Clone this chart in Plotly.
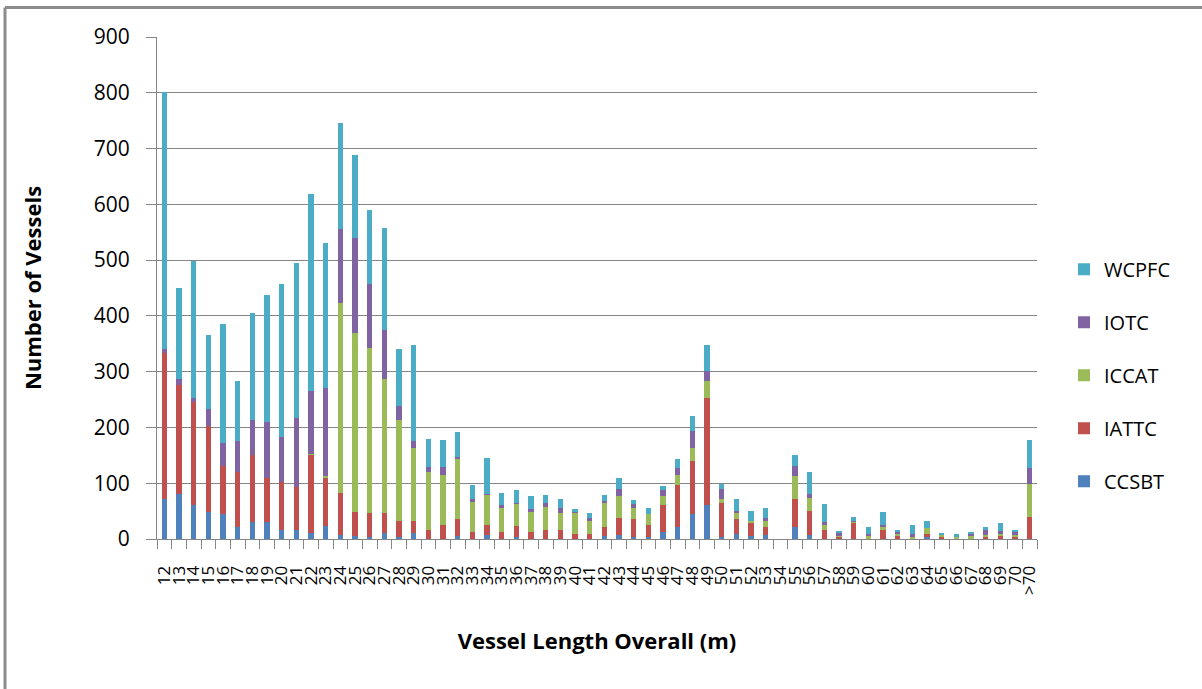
import plotly.graph_objects as go

categories = [str(v) for v in range(12, 71)] + [">70"]

ccsbt = [72, 81, 61, 49, 45, 21, 31, 31, 17, 17, 10, 24, 7, 6, 4, 10, 4, 10, 0, 0,
         6, 0, 7, 0, 4, 0, 0, 0, 0, 0, 6, 7, 4, 4, 13, 22, 45, 61, 4, 9,
         6, 7, 0, 22, 7, 0, 0, 0, 0, 0, 0, 0, 4, 0, 0, 0, 0, 0, 0, 0]
iattc = [261, 195, 184, 154, 86, 99, 119, 79, 86, 76, 141, 87, 75, 43, 42, 36, 29, 23, 16, 25,
         30, 13, 18, 13, 19, 13, 17, 17, 9, 9, 15, 31, 32, 21, 48, 75, 95, 192, 61, 27,
         23, 15, 0, 50, 43, 16, 4, 29, 0, 16, 7, 0, 5, 4, 0, 0, 5, 7, 4, 40]
iccat = [0, 0, 0, 0, 0, 0, 0, 0, 0, 0, 2, 2, 342, 320, 297, 241, 181, 131, 104, 90,
         107, 54, 54, 43, 40, 36, 40, 30, 38, 23, 43, 39, 20, 20, 16, 18, 23, 30, 7, 11,
         3, 11, 0, 41, 23, 9, 2, 2, 5, 5, 2, 4, 11, 4, 4, 7, 2, 2, 4, 59]
iotc = [8, 11, 7, 30, 41, 55, 63, 100, 79, 124, 113, 157, 131, 170, 114, 88, 25, 12, 9, 14,
        4, 5, 2, 5, 2, 5, 7, 9, 2, 5, 5, 13, 7, 0, 11, 12, 30, 18, 18, 4,
        0, 5, 0, 18, 7, 5, 4, 2, 4, 4, 4, 5, 0, 0, 0, 2, 9, 5, 5, 29]
wcpfc = [460, 163, 247, 133, 213, 109, 193, 227, 275, 277, 353, 260, 190, 149, 133, 183, 102, 172, 50, 48,
         44, 25, 64, 21, 23, 23, 14, 16, 5, 9, 9, 20, 7, 11, 7, 16, 27, 47, 9, 20,
         18, 18, 0, 20, 40, 32, 5, 7, 13, 23, 4, 16, 12, 2, 5, 4, 5, 14, 2, 49]

series = [
    ("CCSBT", ccsbt, "#4F81BD"),
    ("IATTC", iattc, "#C0504D"),
    ("ICCAT", iccat, "#9BBB59"),
    ("IOTC", iotc, "#8064A2"),
    ("WCPFC", wcpfc, "#4BACC6"),
]

FONT = "Open Sans"
GRID = "#868686"

fig = go.Figure()
n = len(series)
for i, (name, vals, col) in enumerate(series):
    fig.add_trace(go.Bar(x=categories, y=vals, name=name, marker_color=col,
                         marker_line_width=0, legendgroup=name, legendrank=n - i))

# plot area in pixels: left 157, right 1037, top 36.5, bottom 539
L, R, T, B = 157, 1037, 36.5, 539
W, H = R - L, B - T

def px(xp):
    return (xp - L) / W

def py(yp):
    return (B - yp) / H

fig.update_layout(
    width=1202, height=689,
    margin=dict(l=L, r=1202 - R, t=T, b=689 - B, pad=0),
    paper_bgcolor="white", plot_bgcolor="white",
    barmode="stack", bargap=0.62,
    font=dict(family=FONT, color="black"),
    showlegend=True,
    legend=dict(x=px(1064), y=py(375), xanchor="left", yanchor="middle",
                traceorder="grouped", tracegroupgap=24,
                font=dict(size=20, family=FONT), bgcolor="rgba(0,0,0,0)"),
    xaxis=dict(
        type="category", tickmode="linear", dtick=1, tickangle=-90,
        tickson="boundaries", ticks="outside", ticklen=9, tickcolor=GRID, tickwidth=1,
        showline=True, linecolor=GRID, linewidth=1, showgrid=False,
        tickfont=dict(size=17, family=FONT), ticklabelstandoff=19,
        title=dict(text="<b>Vessel Length Overall (m)</b>", font=dict(size=22, family=FONT), standoff=39),
        range=[-0.5, 59.5],
    ),
    yaxis=dict(
        range=[0, 900], dtick=100, showgrid=True, gridcolor=GRID, gridwidth=1,
        ticks="outside", ticklen=10, tickcolor=GRID, showline=True, linecolor=GRID, linewidth=1,
        tickfont=dict(size=21, family=FONT), ticklabelstandoff=12,
        title=dict(text="<b>Number of Vessels</b>", font=dict(size=22, family=FONT), standoff=46),
        zeroline=False,
    ),
    shapes=[
        dict(type="line", xref="paper", yref="paper", x0=px(5), x1=px(1210), y0=py(7), y1=py(7),
             line=dict(color="#8C8C8C", width=3)),
        dict(type="line", xref="paper", yref="paper", x0=px(5), x1=px(5), y0=py(7), y1=py(700),
             line=dict(color="#8C8C8C", width=3)),
    ],
)

fig.write_html("out.html")
